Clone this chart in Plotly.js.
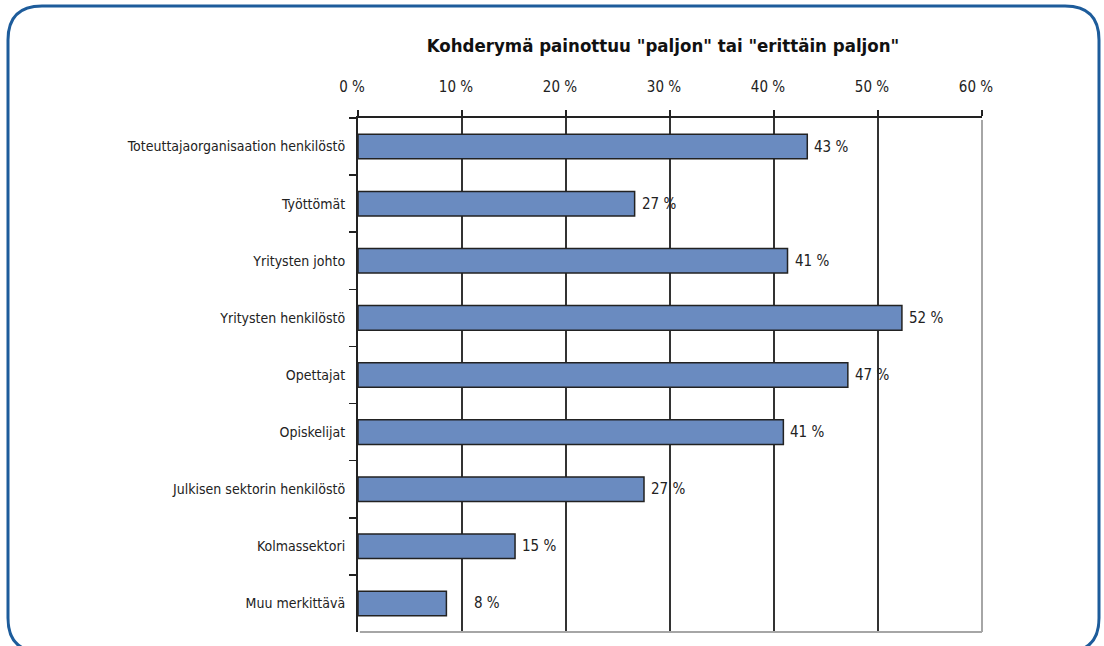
<!DOCTYPE html>
<html><head><meta charset="utf-8">
<script src="https://cdn.plot.ly/plotly-3.0.1.min.js"></script>
<style>html,body{margin:0;padding:0;background:#fff}#chart{width:1104px;height:646px}</style>
</head><body><div id="chart"></div>
<script>
const categories = ["Toteuttajaorganisaation henkilöstö","Työttömät","Yritysten johto","Yritysten henkilöstö","Opettajat","Opiskelijat","Julkisen sektorin henkilöstö","Kolmassektori","Muu merkittävä"];
const values = [43.2, 26.6, 41.3, 52.3, 47.1, 40.9, 27.5, 15.1, 8.5];
const valueLabels = ["43 %","27 %","41 %","52 %","47 %","41 %","27 %","15 %","8 %"];
const chartTitle = 'Kohderymä painottuu "paljon" tai "erittäin paljon"';
const xTicks = [0,10,20,30,40,50,60];
const xTickLabels = ["0 %","10 %","20 %","30 %","40 %","50 %","60 %"];

const labelShift = [5,5,5,5,5,5,5,5,26];
const W = 1104, H = 646, L = 358, R = 122, T = 118, B = 14;
const pw = W - L - R, ph = H - T - B;
const px = X => (X - L) / pw, py = Y => (H - B - Y) / ph;
const FONT = 'DejaVu Sans Condensed, DejaVu Sans, sans-serif';

// rounded border path
const bx0 = 8, by0 = 6, bx1 = 1099, by1 = 652, rr = 34;
const borderPath = [
  `M ${px(bx0+rr)} ${py(by0)}`, `L ${px(bx1-rr)} ${py(by0)}`,
  `Q ${px(bx1)} ${py(by0)} ${px(bx1)} ${py(by0+rr)}`,
  `L ${px(bx1)} ${py(by1-rr)}`,
  `Q ${px(bx1)} ${py(by1)} ${px(bx1-rr)} ${py(by1)}`,
  `L ${px(bx0+rr)} ${py(by1)}`,
  `Q ${px(bx0)} ${py(by1)} ${px(bx0)} ${py(by1-rr)}`,
  `L ${px(bx0)} ${py(by0+rr)}`,
  `Q ${px(bx0)} ${py(by0)} ${px(bx0+rr)} ${py(by0)}`
].join(' ');

const trace = {
  type: 'bar', orientation: 'h', y: categories, x: values,
  marker: {color: '#6a8bc0', line: {color: '#222', width: 1.5}},
  hoverinfo: 'skip'
};

const annotations = categories.map((c, i) => ({
  x: values[i], y: c, xref: 'x', yref: 'y', text: valueLabels[i],
  showarrow: false, xanchor: 'left', yanchor: 'middle', xshift: labelShift[i],
  font: {family: FONT, size: 15, color: '#222'}
}));

const layout = {
  width: W, height: H,
  margin: {l: L, r: R, t: T, b: B, pad: 0},
  paper_bgcolor: '#fff', plot_bgcolor: '#fff',
  showlegend: false,
  bargap: 0.57,
  font: {family: FONT},
  title: {text: chartTitle, x: px(663), xref: 'paper', xanchor: 'center', y: 1 - 46/H, yref: 'container', yanchor: 'middle',
          font: {family: FONT, size: 18.5, color: '#111', weight: 'bold'}},
  xaxis: {
    side: 'top', range: [0, 60], tickvals: xTicks, ticktext: xTickLabels,
    showline: true, linecolor: '#222', linewidth: 2,
    ticks: 'outside', ticklen: 6, tickwidth: 1.5, tickcolor: '#222',
    ticklabelstandoff: 12, ticklabelshift: -6,
    showgrid: true, gridcolor: '#333', gridwidth: 1.5, zeroline: false,
    tickfont: {family: FONT, size: 15, color: '#222'}, fixedrange: true
  },
  yaxis: {
    type: 'category', autorange: 'reversed',
    showline: true, linecolor: '#222', linewidth: 2,
    ticks: 'outside', tickson: 'boundaries', ticklen: 7, tickwidth: 1.5, tickcolor: '#222',
    ticklabelstandoff: 8,
    showgrid: false, zeroline: false,
    tickfont: {family: FONT, size: 14, color: '#222'}, fixedrange: true
  },
  annotations: annotations,
  shapes: [
    {type: 'line', xref: 'paper', yref: 'paper', x0: 0.003, x1: 1, y0: 0, y1: 0, line: {color: '#a6a6a6', width: 2}, layer: 'above'},
    {type: 'line', xref: 'paper', yref: 'paper', x0: 1, x1: 1, y0: 0, y1: 0.996, line: {color: '#a6a6a6', width: 2}, layer: 'above'},
    {type: 'path', xref: 'paper', yref: 'paper', path: borderPath, line: {color: '#1d5c9b', width: 3}, fillcolor: 'rgba(0,0,0,0)', layer: 'above'}
  ]
};

Plotly.newPlot('chart', [trace], layout, {displayModeBar: false, staticPlot: true});
</script></body></html>
